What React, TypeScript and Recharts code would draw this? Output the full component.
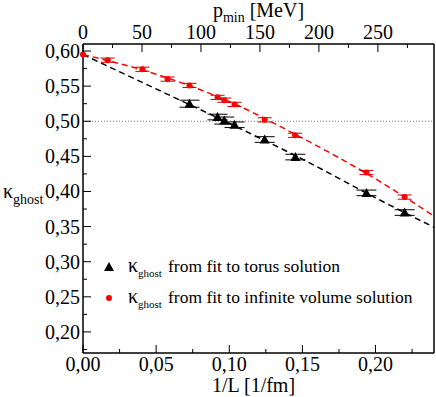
import React from 'react';
import {
  ComposedChart,
  Scatter,
  Line,
  XAxis,
  YAxis,
  ErrorBar,
  ReferenceLine,
  Legend,
} from 'recharts';

// 2*pi*hbar*c in MeV fm, to put p_min on the top axis
const HC2PI = 1239.84;
const FONT = 'Liberation Serif';

// torus fit (black triangles)
const torusX = [0.0728, 0.092, 0.0966, 0.1036, 0.1242, 0.1452, 0.1938, 0.2199];
const torusK = [0.525, 0.506, 0.501, 0.495, 0.474, 0.449, 0.398, 0.37];
const torusErr = [0.005, 0.004, 0.005, 0.004, 0.004, 0.004, 0.004, 0.004];

// infinite volume fit (red dots)
const infX = [0, 0.0169, 0.0406, 0.0578, 0.0728, 0.092, 0.0966, 0.1036, 0.1242, 0.145, 0.1938, 0.2199];
const infK = [0.595, 0.587, 0.574, 0.56, 0.551, 0.534, 0.53, 0.524, 0.502, 0.48, 0.427, 0.392];
const infErr = [0, 0.003, 0.003, 0.003, 0.003, 0.003, 0.003, 0.003, 0.003, 0.003, 0.003, 0.003];

// dashed fit curves
const fitX = [0, 0.05, 0.1, 0.15, 0.2, 0.24];
const torusFit = [0.595, 0.546, 0.497, 0.446, 0.391, 0.349];
const infFit = [0.595, 0.567, 0.528, 0.476, 0.418, 0.365];

// axes
const xTicks = [0, 0.025, 0.05, 0.075, 0.1, 0.125, 0.15, 0.175, 0.2, 0.225];
const xLabels = ['0,00', '', '0,05', '', '0,10', '', '0,15', '', '0,20', ''];
const pTicks = [0, 25, 50, 75, 100, 125, 150, 175, 200, 225, 250, 275];
const pLabels = ['0', '', '50', '', '100', '', '150', '', '200', '', '250', ''];
const yTicks = [0.175, 0.2, 0.225, 0.25, 0.275, 0.3, 0.325, 0.35, 0.375, 0.4, 0.425, 0.45, 0.475, 0.5, 0.525, 0.55, 0.575, 0.6];
const yLabels = ['', '0,20', '', '0,25', '', '0,30', '', '0,35', '', '0,40', '', '0,45', '', '0,50', '', '0,55', '', '0,60'];

const legendTexts = ['from fit to torus solution', 'from fit to infinite volume solution'];

const torusData = torusX.map((x, i) => ({ x, y: torusK[i], err: torusErr[i] }));
const infData = infX.map((x, i) => ({ x, y: infK[i], err: infErr[i] }));
const torusFitData = fitX.map((x, i) => ({ x, y: torusFit[i] }));
const infFitData = fitX.map((x, i) => ({ x, y: infFit[i] }));

const Triangle = (props: any) => {
  const { cx, cy } = props;
  return <path d={`M${cx},${cy - 5} L${cx + 5},${cy + 4} L${cx - 5},${cy + 4} Z`} fill="#000" />;
};

const Dot = (props: any) => {
  const { cx, cy } = props;
  return <circle cx={cx} cy={cy} r={3} fill="#ff0000" />;
};

const BottomTick = (props: any) => {
  const { x, y, index } = props;
  const label = xLabels[index];
  return (
    <g>
      <line x1={x} x2={x} y1={y} y2={y - (label ? 8 : 4)} stroke="#000" />
      {label && (
        <text x={x} y={y + 18} textAnchor="middle" fontSize={20} fontFamily={FONT} fill="#000">
          {label}
        </text>
      )}
    </g>
  );
};

const TopTick = (props: any) => {
  const { x, y, index } = props;
  const label = pLabels[index];
  return (
    <g>
      <line x1={x} x2={x} y1={y} y2={y + (label ? 8 : 4)} stroke="#000" />
      {label && (
        <text x={x} y={y - 5} textAnchor="middle" fontSize={20} fontFamily={FONT} fill="#000">
          {label}
        </text>
      )}
    </g>
  );
};

const LeftTick = (props: any) => {
  const { x, y, index } = props;
  const label = yLabels[index];
  return (
    <g>
      <line x1={x} x2={x + (label ? 8 : 4)} y1={y} y2={y} stroke="#000" />
      {label && (
        <text x={x - 3} y={y + 7} textAnchor="end" fontSize={20} fontFamily={FONT} fill="#000">
          {label}
        </text>
      )}
    </g>
  );
};

const RightTick = (props: any) => {
  const { x, y, index } = props;
  return <line x1={x} x2={x - (yLabels[index] ? 8 : 4)} y1={y} y2={y} stroke="#000" />;
};

const renderLegend = () => (
  <svg width={330} height={60} style={{ display: 'block' }}>
    {legendTexts.map((t, i) => {
      const cy = 13 + i * 31;
      return (
        <g key={t}>
          {i === 0 ? <Triangle cx={9} cy={cy} /> : <circle cx={9} cy={cy} r={3} fill="#ff0000" />}
          <text fontFamily={FONT} fill="#000">
            <tspan x={28} y={cy + 5} fontSize={20}>κ</tspan>
            <tspan dy={5} fontSize={11}>ghost</tspan>
            <tspan x={68} y={cy + 5} fontSize={17.5}>{t}</tspan>
          </text>
        </g>
      );
    })}
  </svg>
);

export default function App() {
  return (
    <div style={{ position: 'absolute', left: 0, top: 0 }}>
      <ComposedChart width={436} height={397} margin={{ top: 0, right: 0, bottom: 0, left: 0 }}>
        <XAxis
          xAxisId="bottom"
          type="number"
          dataKey="x"
          domain={[0, 0.24]}
          ticks={xTicks}
          interval={0}
          tick={<BottomTick />}
          tickLine={false}
          tickSize={0}
          tickMargin={0}
          height={44}
          axisLine={{ stroke: '#000', strokeWidth: 1.5 }}
          label={{
            content: (p: any) => (
              <text
                x={p.viewBox.x + p.viewBox.width / 2 - 5}
                y={p.viewBox.y + 39}
                textAnchor="middle"
                fontSize={20}
                fontFamily={FONT}
              >
                1/L [1/fm]
              </text>
            ),
          }}
        />
        <XAxis
          xAxisId="top"
          orientation="top"
          type="number"
          dataKey="x"
          domain={[0, 0.24]}
          ticks={pTicks.map((p) => p / HC2PI)}
          interval={0}
          tick={<TopTick />}
          tickLine={false}
          tickSize={0}
          tickMargin={0}
          height={44}
          axisLine={{ stroke: '#000', strokeWidth: 1.5 }}
          label={{
            content: (p: any) => (
              <text
                x={p.viewBox.x + p.viewBox.width / 2}
                y={17}
                textAnchor="middle"
                fontSize={20}
                fontFamily={FONT}
              >
                <tspan>p</tspan>
                <tspan fontSize={14} dy={5}>min</tspan>
                <tspan dy={-5}> [MeV]</tspan>
              </text>
            ),
          }}
        />
        <YAxis
          yAxisId="left"
          type="number"
          dataKey="y"
          domain={[0.17, 0.61]}
          ticks={yTicks}
          interval={0}
          tick={<LeftTick />}
          tickLine={false}
          tickSize={0}
          tickMargin={0}
          width={83}
          axisLine={{ stroke: '#000', strokeWidth: 1.5 }}
          label={{
            content: (p: any) => (
              <text x={3} y={p.viewBox.y + 154} fontFamily={FONT}>
                <tspan fontSize={20}>κ</tspan>
                <tspan fontSize={14} dy={6}>ghost</tspan>
              </text>
            ),
          }}
        />
        <YAxis
          yAxisId="right"
          orientation="right"
          type="number"
          dataKey="y"
          domain={[0.17, 0.61]}
          ticks={yTicks}
          interval={0}
          tick={<RightTick />}
          tickLine={false}
          tickSize={0}
          tickMargin={0}
          width={2}
          axisLine={{ stroke: '#000', strokeWidth: 1.5 }}
        />
        <ReferenceLine
          xAxisId="bottom"
          yAxisId="left"
          y={0.5}
          stroke="#777"
          strokeDasharray="1 2"
        />
        <Line
          xAxisId="top"
          yAxisId="left"
          data={torusFitData}
          dataKey="y"
          type="monotone"
          stroke="#000"
          strokeWidth={1.5}
          strokeDasharray="6 4"
          dot={false}
          legendType="none"
          isAnimationActive={false}
        />
        <Line
          xAxisId="top"
          yAxisId="left"
          data={infFitData}
          dataKey="y"
          type="monotone"
          stroke="#ff0000"
          strokeWidth={1.5}
          strokeDasharray="6 4"
          dot={false}
          legendType="none"
          isAnimationActive={false}
        />
        <Scatter
          xAxisId="bottom"
          yAxisId="left"
          name="torus"
          data={torusData}
          shape={<Triangle />}
          isAnimationActive={false}
        >
          <ErrorBar dataKey="err" direction="y" width={10} stroke="#000" strokeWidth={1} />
        </Scatter>
        <Scatter
          xAxisId="bottom"
          yAxisId="left"
          name="infinite"
          data={infData}
          shape={<Dot />}
          isAnimationActive={false}
        >
          <ErrorBar dataKey="err" direction="y" width={7} stroke="#cc0000" strokeWidth={1} />
        </Scatter>
        <Legend
          layout="vertical"
          align="center"
          verticalAlign="middle"
          content={renderLegend}
          wrapperStyle={{ left: 100, top: 254, width: 330, height: 60 }}
        />
      </ComposedChart>
    </div>
  );
}
